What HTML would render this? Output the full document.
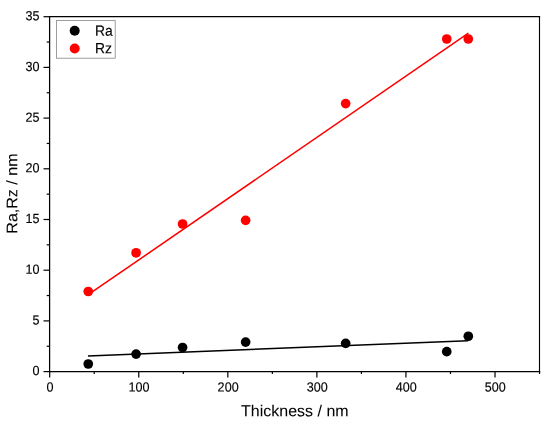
<!DOCTYPE html>
<html><head><meta charset="utf-8"><title>Ra,Rz vs Thickness</title>
<style>html,body{margin:0;padding:0;background:#fff;}svg{display:block;}text{font-family:"Liberation Sans",sans-serif;fill:#000;}</style>
</head><body>
<svg width="550" height="426" viewBox="0 0 550 426">
<rect x="0" y="0" width="550" height="426" fill="#fff"/>
<g stroke="#000" fill="none" stroke-linecap="square">
<line x1="49.6" y1="16.7" x2="49.6" y2="371.6" stroke-width="1.25"/>
<line x1="539.5" y1="16.7" x2="539.5" y2="371.6" stroke-width="1.12"/>
<line x1="49.6" y1="16.7" x2="539.5" y2="16.7" stroke-width="1.3"/>
<line x1="49.6" y1="371.6" x2="539.5" y2="371.6" stroke-width="1.35"/>
</g>
<g stroke="#000" stroke-width="1.2" fill="none">
<line x1="43.50" y1="371.60" x2="49.60" y2="371.60"/>
<line x1="43.50" y1="320.90" x2="49.60" y2="320.90"/>
<line x1="43.50" y1="270.20" x2="49.60" y2="270.20"/>
<line x1="43.50" y1="219.50" x2="49.60" y2="219.50"/>
<line x1="43.50" y1="168.80" x2="49.60" y2="168.80"/>
<line x1="43.50" y1="118.10" x2="49.60" y2="118.10"/>
<line x1="43.50" y1="67.40" x2="49.60" y2="67.40"/>
<line x1="43.50" y1="16.70" x2="49.60" y2="16.70"/>
<line x1="46.70" y1="346.25" x2="49.60" y2="346.25"/>
<line x1="46.70" y1="295.55" x2="49.60" y2="295.55"/>
<line x1="46.70" y1="244.85" x2="49.60" y2="244.85"/>
<line x1="46.70" y1="194.15" x2="49.60" y2="194.15"/>
<line x1="46.70" y1="143.45" x2="49.60" y2="143.45"/>
<line x1="46.70" y1="92.75" x2="49.60" y2="92.75"/>
<line x1="46.70" y1="42.05" x2="49.60" y2="42.05"/>
<line x1="49.70" y1="371.60" x2="49.70" y2="377.40"/>
<line x1="138.76" y1="371.60" x2="138.76" y2="377.40"/>
<line x1="227.83" y1="371.60" x2="227.83" y2="377.40"/>
<line x1="316.89" y1="371.60" x2="316.89" y2="377.40"/>
<line x1="405.95" y1="371.60" x2="405.95" y2="377.40"/>
<line x1="495.02" y1="371.60" x2="495.02" y2="377.40"/>
<line x1="94.23" y1="371.60" x2="94.23" y2="374.00"/>
<line x1="183.30" y1="371.60" x2="183.30" y2="374.00"/>
<line x1="272.36" y1="371.60" x2="272.36" y2="374.00"/>
<line x1="361.42" y1="371.60" x2="361.42" y2="374.00"/>
<line x1="450.49" y1="371.60" x2="450.49" y2="374.00"/>
<line x1="539.55" y1="371.60" x2="539.55" y2="374.00"/>
</g>
<text transform="translate(39.40 375.10) rotate(0.03) scale(0.97 1.02)" font-size="13px" text-anchor="end" stroke="#000" stroke-width="0.15">0</text>
<text transform="translate(39.40 324.42) rotate(0.03) scale(0.97 1.02)" font-size="13px" text-anchor="end" stroke="#000" stroke-width="0.15">5</text>
<text transform="translate(39.40 273.73) rotate(0.03) scale(0.97 1.02)" font-size="13px" text-anchor="end" stroke="#000" stroke-width="0.15">10</text>
<text transform="translate(39.40 223.05) rotate(0.03) scale(0.97 1.02)" font-size="13px" text-anchor="end" stroke="#000" stroke-width="0.15">15</text>
<text transform="translate(39.40 172.37) rotate(0.03) scale(0.97 1.02)" font-size="13px" text-anchor="end" stroke="#000" stroke-width="0.15">20</text>
<text transform="translate(39.40 121.69) rotate(0.03) scale(0.97 1.02)" font-size="13px" text-anchor="end" stroke="#000" stroke-width="0.15">25</text>
<text transform="translate(39.40 71.00) rotate(0.03) scale(0.97 1.02)" font-size="13px" text-anchor="end" stroke="#000" stroke-width="0.15">30</text>
<text transform="translate(39.40 20.32) rotate(0.03) scale(0.97 1.02)" font-size="13px" text-anchor="end" stroke="#000" stroke-width="0.15">35</text>
<text transform="translate(50.00 391.55) rotate(0.03) scale(0.97 1.02)" font-size="13px" text-anchor="middle" stroke="#000" stroke-width="0.15">0</text>
<text transform="translate(139.06 391.55) rotate(0.03) scale(0.97 1.02)" font-size="13px" text-anchor="middle" stroke="#000" stroke-width="0.15">100</text>
<text transform="translate(228.13 391.55) rotate(0.03) scale(0.97 1.02)" font-size="13px" text-anchor="middle" stroke="#000" stroke-width="0.15">200</text>
<text transform="translate(317.19 391.55) rotate(0.03) scale(0.97 1.02)" font-size="13px" text-anchor="middle" stroke="#000" stroke-width="0.15">300</text>
<text transform="translate(406.25 391.55) rotate(0.03) scale(0.97 1.02)" font-size="13px" text-anchor="middle" stroke="#000" stroke-width="0.15">400</text>
<text transform="translate(495.32 391.55) rotate(0.03) scale(0.97 1.02)" font-size="13px" text-anchor="middle" stroke="#000" stroke-width="0.15">500</text>
<text transform="translate(294.85 416.35) rotate(0.03) scale(1.01 1.0)" font-size="15.85px" text-anchor="middle" stroke="#000" stroke-width="0.05">Thickness / nm</text>
<text transform="translate(17.30 193.60) rotate(-89.97) scale(1.012 0.97)" font-size="15.85px" text-anchor="middle" stroke="#000" stroke-width="0.05">Ra,Rz / nm</text>
<line x1="88.0" y1="356.0" x2="468.1" y2="340.7" stroke="#000" stroke-width="1.5"/>
<line x1="88.2" y1="294.7" x2="468.4" y2="33.15" stroke="#f00" stroke-width="1.55"/>
<g fill="#000">
<circle cx="88.26" cy="364.00" r="4.85"/>
<circle cx="136.09" cy="354.07" r="4.85"/>
<circle cx="182.58" cy="347.48" r="4.85"/>
<circle cx="245.64" cy="342.11" r="4.85"/>
<circle cx="345.66" cy="343.42" r="4.85"/>
<circle cx="446.75" cy="351.63" r="4.85"/>
<circle cx="468.30" cy="336.23" r="4.85"/>
</g>
<g fill="#f00">
<circle cx="88.26" cy="291.52" r="4.85"/>
<circle cx="136.09" cy="252.80" r="4.85"/>
<circle cx="182.58" cy="224.01" r="4.85"/>
<circle cx="245.64" cy="220.37" r="4.85"/>
<circle cx="345.66" cy="103.59" r="4.85"/>
<circle cx="446.75" cy="39.02" r="4.85"/>
<circle cx="468.30" cy="39.02" r="4.85"/>
</g>
<rect x="56.5" y="20.6" width="58.7" height="37.6" fill="#fff" stroke="#858585" stroke-width="0.8"/>
<circle cx="74.7" cy="30.7" r="5" fill="#000"/>
<circle cx="74.7" cy="48.5" r="5" fill="#f00"/>
<text transform="translate(95.00 35.80) rotate(0.03) scale(0.965 1.025)" font-size="14.4px" text-anchor="start" stroke="#000" stroke-width="0.15">Ra</text>
<text transform="translate(95.00 53.30) rotate(0.03) scale(0.965 1.025)" font-size="14.4px" text-anchor="start" stroke="#000" stroke-width="0.15">Rz</text>
</svg>
</body></html>
